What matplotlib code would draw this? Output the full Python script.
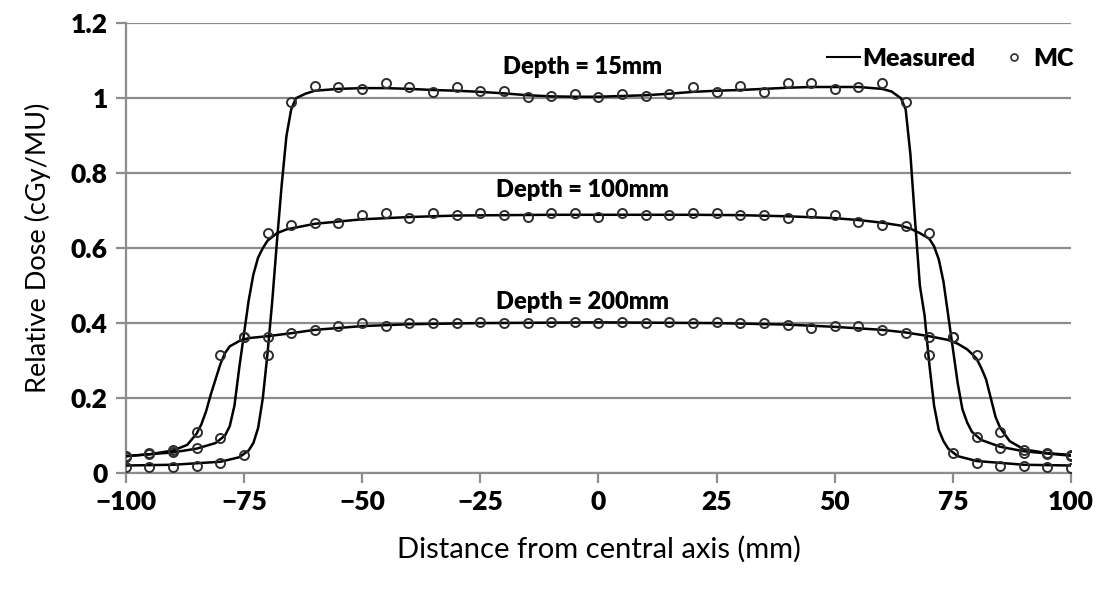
import matplotlib
matplotlib.use('Agg')
import matplotlib.pyplot as plt
from matplotlib.lines import Line2D

# MC points every 5 mm
mc_x = list(range(-100, 105, 5))
mc_15 = [0.016, 0.016, 0.017, 0.02, 0.027, 0.048, 0.315, 0.99, 1.033, 1.03, 1.025,
         1.04, 1.03, 1.016, 1.03, 1.02, 1.02, 1.003, 1.007, 1.012, 1.003,
         1.012, 1.007, 1.012, 1.03, 1.016, 1.033, 1.016, 1.04, 1.04, 1.025,
         1.03, 1.04, 0.99, 0.315, 0.053, 0.027, 0.02, 0.02, 0.016, 0.014]
mc_100 = [0.043, 0.05, 0.055, 0.067, 0.094, 0.364, 0.64, 0.662, 0.667, 0.667, 0.689,
          0.693, 0.68, 0.693, 0.689, 0.693, 0.689, 0.684, 0.693, 0.693, 0.684,
          0.693, 0.689, 0.689, 0.693, 0.693, 0.689, 0.689, 0.68, 0.693, 0.689,
          0.671, 0.662, 0.658, 0.64, 0.364, 0.096, 0.067, 0.053, 0.05, 0.045]
mc_200 = [0.045, 0.053, 0.062, 0.11, 0.315, 0.364, 0.364, 0.373, 0.382, 0.391, 0.4,
          0.391, 0.4, 0.4, 0.4, 0.404, 0.4, 0.4, 0.404, 0.404, 0.4,
          0.404, 0.4, 0.404, 0.4, 0.404, 0.4, 0.4, 0.396, 0.387, 0.391,
          0.391, 0.382, 0.373, 0.364, 0.364, 0.315, 0.11, 0.062, 0.053, 0.048]

# measured profiles
meas_15_x = [-100, -90, -80, -76, -74, -73, -72, -71, -70, -69, -68, -67, -66, -65, -64,
             -62, -60, -55, -50, -45, -40, -35, -30, -25, -20, -15, -10, -5, 0,
             5, 10, 15, 20, 25, 30, 35, 40, 45, 50, 55, 60, 62, 64, 65, 66, 67,
             68, 69, 70, 71, 72, 73, 74, 76, 80, 90, 100]
meas_15 = [0.02, 0.022, 0.03, 0.042, 0.06, 0.08, 0.12, 0.2, 0.32, 0.46, 0.62, 0.77, 0.9, 0.97, 1.0,
           1.012, 1.02, 1.025, 1.027, 1.027, 1.025, 1.022, 1.02, 1.017, 1.013, 1.008, 1.005, 1.004, 1.004,
           1.006, 1.008, 1.012, 1.017, 1.02, 1.022, 1.025, 1.028, 1.03, 1.03, 1.03, 1.025, 1.018, 1.0, 0.97, 0.85, 0.67,
           0.5, 0.42, 0.29, 0.18, 0.115, 0.085, 0.065, 0.045, 0.032, 0.022, 0.02]
meas_100_x = [-100, -90, -85, -81, -79, -78, -77, -76, -75, -74, -73, -72, -71, -70, -68, -66, -64, -60,
              -50, -40, -30, -20, -10, 0, 10, 20, 30, 40, 50,
              55, 60, 64, 66, 68, 70, 71, 72, 73, 74, 75, 76, 77, 78, 79, 81, 85, 90, 100]
meas_100 = [0.045, 0.055, 0.065, 0.08, 0.1, 0.125, 0.18, 0.28, 0.37, 0.46, 0.53, 0.575, 0.6, 0.62, 0.64, 0.65, 0.655, 0.665,
            0.677, 0.683, 0.687, 0.688, 0.689, 0.689, 0.689, 0.689, 0.688, 0.685, 0.68,
            0.675, 0.668, 0.66, 0.652, 0.64, 0.625, 0.605, 0.57, 0.51, 0.42, 0.33, 0.24, 0.17, 0.135, 0.11, 0.088, 0.07, 0.058, 0.046]
meas_200_x = [-100, -95, -90, -87, -85, -84, -83, -82, -81, -80, -79, -78, -76, -74, -70,
              -65, -60, -50, -40, -25, 0, 25, 40, 50, 60, 65, 70,
              74, 76, 78, 79, 80, 81, 82, 83, 84, 85, 87, 90, 95, 100]
meas_200 = [0.045, 0.05, 0.06, 0.075, 0.105, 0.13, 0.165, 0.21, 0.25, 0.29, 0.32, 0.338, 0.352, 0.36, 0.365,
            0.373, 0.382, 0.392, 0.397, 0.4, 0.402, 0.4, 0.396, 0.39, 0.382, 0.375, 0.365,
            0.355, 0.345, 0.33, 0.318, 0.305, 0.28, 0.25, 0.2, 0.15, 0.12, 0.085, 0.063, 0.053, 0.048]

depth_labels = ['Depth = 15mm', 'Depth = 100mm', 'Depth = 200mm']
label_pos = [(-3.3, 1.083), (-3.3, 0.755), (-3.3, 0.456)]

plt.rcParams['font.family'] = ['Lato', 'DejaVu Sans']

fig = plt.figure(figsize=(11.07, 5.97), dpi=100)
ax = fig.add_axes([0.1136, 0.2077, 0.854, 0.7533])

grid_c = '#8c8c8c'
for mx, my in [(meas_15_x, meas_15), (meas_100_x, meas_100), (meas_200_x, meas_200)]:
    ax.plot(mx, my, color='black', lw=1.8, zorder=3)
for my in [mc_15, mc_100, mc_200]:
    ax.plot(mc_x, my, linestyle='none', marker='o', markersize=6.5, markerfacecolor='none',
            markeredgecolor='#2e2e2e', markeredgewidth=1.4, zorder=4)

for txt, (tx, ty) in zip(depth_labels, label_pos):
    ax.text(tx, ty, txt, ha='center', va='center', fontsize=17, fontweight='heavy')

ax.set_xlim(-100, 100)
ax.set_ylim(0, 1.2)
ax.set_xticks(range(-100, 101, 25))
ax.set_yticks([0, 0.2, 0.4, 0.6, 0.8, 1.0, 1.2])
ax.set_yticklabels(['0', '0.2', '0.4', '0.6', '0.8', '1', '1.2'])
ax.grid(axis='y', color=grid_c, lw=1.6)
ax.set_axisbelow(True)
for s in ['top', 'right']:
    ax.spines[s].set_visible(False)
for s in ['left', 'bottom']:
    ax.spines[s].set_color(grid_c)
    ax.spines[s].set_linewidth(1.6)
ax.tick_params(axis='both', colors=grid_c, width=1.6, length=7, labelcolor='black', labelsize=19)
for lab in ax.get_xticklabels() + ax.get_yticklabels():
    lab.set_fontweight('heavy')
ax.tick_params(axis='x', pad=5)
ax.tick_params(axis='y', pad=6)

ax.set_xlabel('Distance from central axis (mm)', fontsize=21, labelpad=16)
ax.set_ylabel('Relative Dose (cGy/MU)', fontsize=19.5, labelpad=14)

handles = [Line2D([], [], color='black', lw=1.5),
           Line2D([], [], linestyle='none', marker='o', markersize=5, markerfacecolor='none',
                  markeredgecolor='#2e2e2e', markeredgewidth=1.2)]
leg = fig.legend(handles, ['Measured', 'MC'], loc='center right', bbox_to_anchor=(0.99, 0.902),
                 ncol=2, frameon=False, handlelength=1.3, handletextpad=0.1, columnspacing=0.9,
                 prop={'weight': 'heavy', 'size': 18})

fig.savefig('out.png', dpi=100)
